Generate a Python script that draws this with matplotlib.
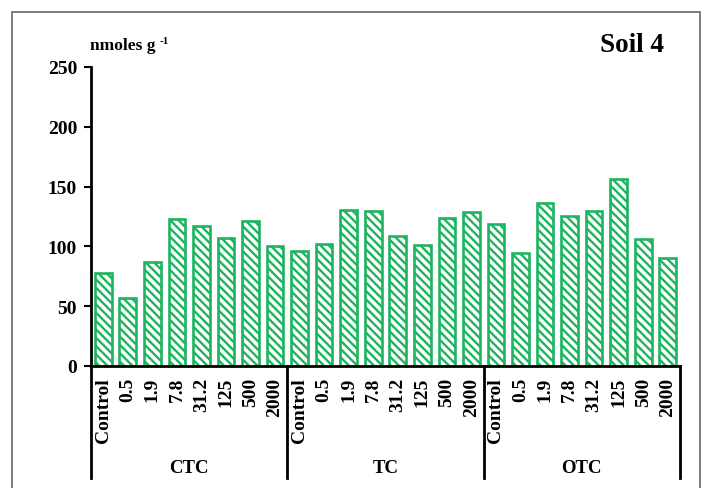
import matplotlib
matplotlib.use("Agg")
import matplotlib.pyplot as plt
from matplotlib.patches import Rectangle

plt.rcParams['font.family'] = ['Liberation Serif', 'DejaVu Serif']
plt.rcParams['font.weight'] = 'bold'
plt.rcParams['hatch.linewidth'] = 1.7
plt.rcParams['hatch.color'] = '#1db460'

# doses for each antibiotic
doses = ['Control', '0.5', '1.9', '7.8', '31.2', '125', '500', '2000']
groups = ['CTC', 'TC', 'OTC']

ctc = [77.5, 56.6, 87.2, 123.2, 117.3, 107.0, 121.5, 100.0]
tc = [96.4, 102.3, 130.2, 130.0, 108.4, 100.9, 123.5, 128.5]
otc = [118.5, 94.5, 136.6, 125.2, 129.6, 156.4, 106.2, 90.0]

values = ctc + tc + otc
labels = doses * len(groups)
green = '#1db460'

fig = plt.figure(figsize=(7.06, 4.89), dpi=100)
ax = fig.add_axes([0.1289, 0.2495, 0.8343, 0.6115])

x = list(range(len(values)))
ax.bar(x, values, width=0.68, facecolor='white', edgecolor=green,
       linewidth=1.9, hatch='\\\\\\\\')

ax.set_xlim(-0.5, len(values) - 0.5)
ax.set_ylim(0, 250)
ax.set_yticks([0, 50, 100, 150, 200, 250])
ax.tick_params(axis='y', direction='out', length=5, width=1.5,
               labelsize=14, pad=5)
ax.tick_params(axis='x', length=0, labelsize=14, pad=8)
ax.set_xticks(x)
ax.set_xticklabels(labels, rotation=90, va='top')
for t in ax.get_xticklabels() + ax.get_yticklabels():
    t.set_fontweight('bold')

for s in ['top', 'right']:
    ax.spines[s].set_visible(False)
ax.spines['left'].set_linewidth(2)
ax.spines['bottom'].set_linewidth(2)

# group separators below the axis
n = len(doses)
for k in range(len(groups) + 1):
    xs = k * n - 0.5
    ax.plot([xs, xs], [0, -0.375], color='black', lw=2,
            transform=ax.get_xaxis_transform(), clip_on=False)
for k, g in enumerate(groups):
    ax.text(k * n + (n - 1) / 2, -0.341, g, transform=ax.get_xaxis_transform(),
            ha='center', va='center', fontsize=13.5, fontweight='bold')

unit = fig.text(90 / 706, 1 - 46 / 489, 'nmoles g', fontsize=12.5,
                fontweight='bold', ha='left', va='center')
ax.annotate('-1', xy=(1, 1), xycoords=unit, xytext=(3, 1),
            textcoords='offset points', fontsize=8, fontweight='bold',
            ha='left', va='top')
fig.text(664 / 706, 1 - 46 / 489, 'Soil 4', fontsize=19.5, fontweight='bold',
         ha='right', va='center')

# outer frame
fig.patches.append(Rectangle((12 / 706, -0.05), 688 / 706, 1.05 - 13 / 489,
                             transform=fig.transFigure, fill=False,
                             edgecolor='#666666', lw=1.2))

fig.savefig('out.png', dpi=100)
